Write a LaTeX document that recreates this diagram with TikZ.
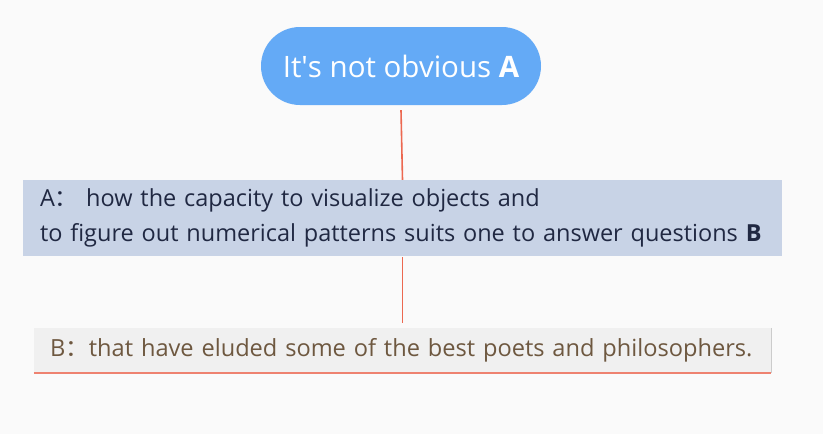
\documentclass[tikz,border=0pt]{standalone}
\usepackage{fontspec}
\setmainfont{Open Sans}
\newfontfamily\cjk{Noto Sans CJK SC}
\usetikzlibrary{positioning}
\definecolor{canvas}{RGB}{250,250,250}
\definecolor{topic}{RGB}{100,170,246}
\definecolor{panel}{RGB}{200,211,230}
\definecolor{ink}{RGB}{32,40,66}
\definecolor{leaf}{RGB}{240,240,240}
\definecolor{leafink}{RGB}{110,88,64}
\definecolor{link}{RGB}{236,104,80}
\definecolor{rim}{RGB}{238,130,112}

\begin{document}
\begin{tikzpicture}[
  x=1pt,y=1pt,
  root/.style={rectangle,rounded corners=39pt,fill=topic,text=white,
               minimum width=280pt,minimum height=78pt,inner sep=0pt,
               font=\fontsize{29.5}{34}\selectfont},
  branch/.style={rectangle,fill=panel,text=ink,minimum width=759pt,
                 minimum height=76pt,inner xsep=15pt,inner ysep=0pt,
                 text width=729pt,align=left,
                 font=\fontsize{23.5}{35}\selectfont},
  tip/.style={rectangle,fill=leaf,text=leafink,minimum width=737pt,
              minimum height=45pt,inner xsep=16pt,inner ysep=0pt,
              text width=705pt,align=left,
              font=\fontsize{23.6}{28}\selectfont},
  linkedge/.style={link,line width=1.6pt}
]
\fill[canvas] (0,0) rectangle (823,-434);
\useasboundingbox (0,0) rectangle (823,-434);
% nodes
\node[root]   (obv)  at (401,-66)    {It\textquotesingle s not obvious \textbf{A}};
\node[branch] (cap)  at (402.5,-218) {\hspace*{2pt}A{\cjk ：}\ how the capacity to visualize objects and\\
  \hspace*{2pt}to figure out numerical patterns suits one to answer questions \textbf{B}};
\node[tip]    (poet) at (402.5,-350.5) {B{\cjk ：}that have eluded some of the best poets and philosophers.};
% shadow and underline of the last node
\draw[black!20,line width=1pt] ([xshift=0.5pt]poet.north east)--([xshift=0.5pt]poet.south east);
\draw[rim,line width=1.6pt] (poet.south west)--(poet.south east);

% links
\draw[linkedge] ([yshift=-5pt]obv.south)--(cap.north);
\draw[linkedge] ([yshift=-1pt]cap.south)--([yshift=5pt]poet.north);
\end{tikzpicture}
\end{document}
